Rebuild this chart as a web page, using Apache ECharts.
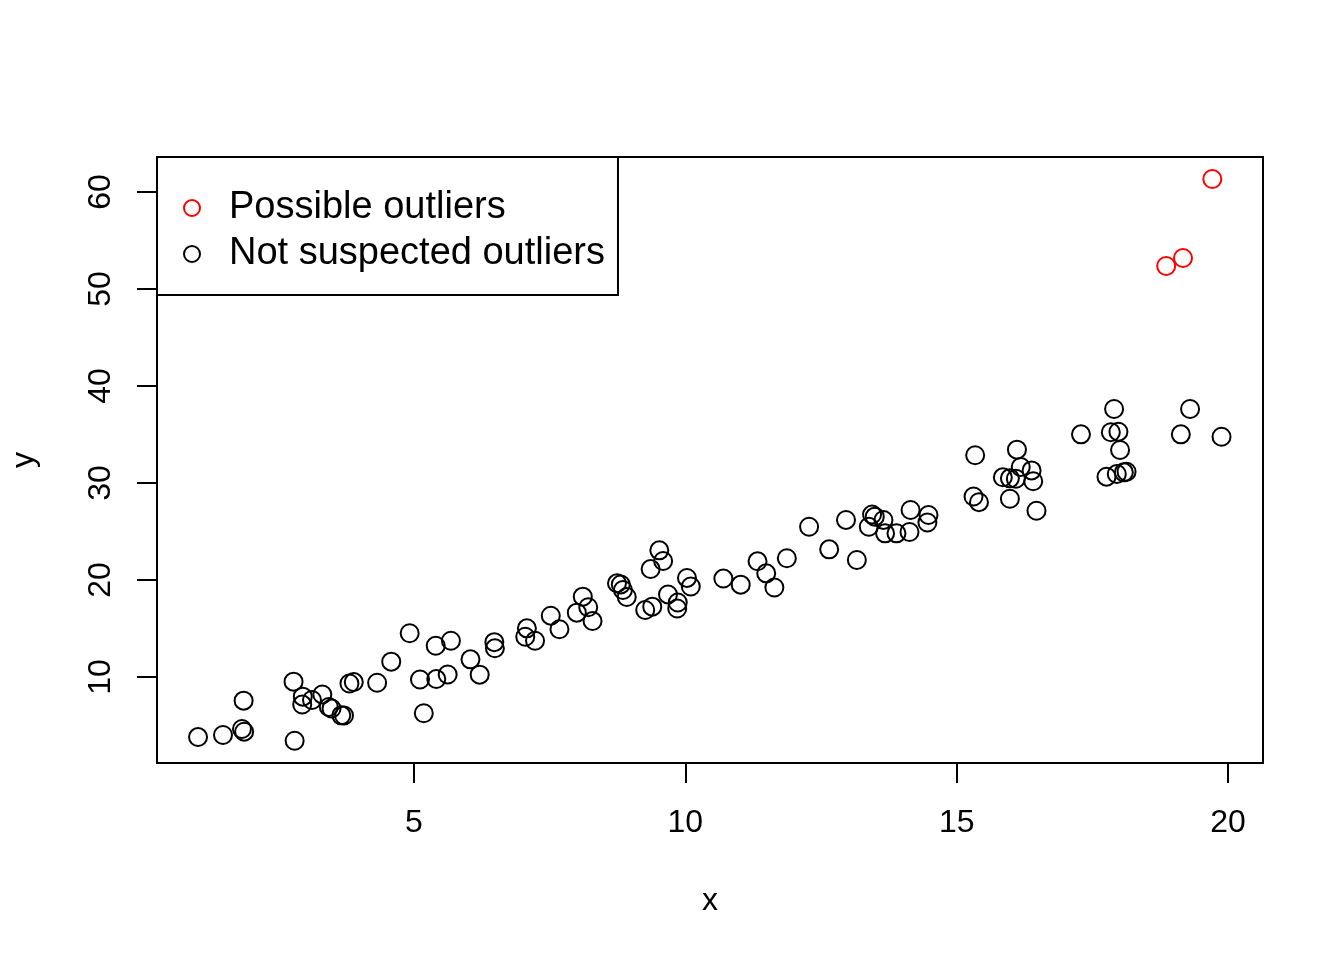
<!DOCTYPE html>
<html>
<head>
    <meta charset="utf-8" />
    <title>Possible outliers</title>
    <script src="https://cdn.jsdelivr.net/npm/echarts@6/dist/echarts.min.js"></script>
    <style type="text/css">
        html,
        body {
            width: 100%;
            height: 100%;
            margin: 0;
            background: #fff;
        }

        #chart {
            width: 1344px;
            height: 960px;
        }
    </style>
</head>
<body>
    <div id="chart"></div>
    <script>
        // values
        var xNormal = [1.02, 1.48, 1.83, 1.87, 1.86, 2.80, 2.78, 2.95, 2.94, 3.12,
            3.31, 3.43, 3.48, 3.66, 3.71, 3.81, 3.89, 4.32, 4.58, 4.92,
            5.18, 5.11, 5.41, 5.62, 5.40, 5.68, 6.04, 6.21, 6.48, 6.49,
            7.08, 7.05, 7.23, 7.52, 7.68, 8.00, 8.11, 8.21, 8.29, 8.74,
            8.81, 8.85, 8.92, 9.26, 9.39, 9.52, 9.59, 9.36, 9.68, 9.86,
            9.85, 10.03, 10.10, 10.70, 11.02, 11.33, 11.49, 11.64, 11.87, 12.28,
            12.65, 12.96, 13.16, 13.44, 13.49, 13.65, 13.38, 13.68, 13.89, 14.13,
            14.15, 14.48, 14.46, 15.34, 15.31, 15.41, 16.11, 15.85, 15.98, 16.09,
            16.18, 16.38, 16.41, 15.98, 16.47, 17.29, 17.90, 17.84, 17.98, 18.01,
            17.76, 17.95, 18.08, 18.13, 19.30, 19.13, 19.88];
        var yNormal = [3.81, 4.02, 4.64, 4.36, 7.56, 3.43, 9.52, 7.97, 7.16, 7.63,
            8.20, 6.91, 6.75, 6.05, 6.03, 9.33, 9.48, 9.41, 11.58, 14.51,
            6.26, 9.74, 9.79, 10.26, 13.22, 13.74, 11.82, 10.24, 13.59, 12.96,
            15.02, 14.15, 13.74, 16.32, 14.92, 16.63, 18.28, 17.19, 15.77, 19.66,
            19.54, 18.97, 18.25, 16.91, 17.25, 23.06, 21.96, 21.13, 18.51, 17.68,
            17.06, 20.21, 19.33, 20.15, 19.52, 21.93, 20.69, 19.23, 22.24, 25.49,
            23.16, 26.19, 22.06, 26.75, 26.53, 26.19, 25.49, 24.81, 24.81, 24.95,
            27.22, 26.70, 25.93, 32.86, 28.61, 28.02, 33.44, 30.59, 30.48, 30.44,
            31.65, 31.30, 30.18, 28.38, 27.14, 35.02, 37.63, 35.23, 35.29, 33.40,
            30.65, 30.93, 31.10, 31.16, 37.63, 35.02, 34.77];
        var xOutlier = [18.86, 19.17, 19.71];
        var yOutlier = [52.37, 53.20, 61.34];

        var xTicks = [5, 10, 15, 20];
        var yTicks = [10, 20, 30, 40, 50, 60];
        var legendNames = ['Possible outliers', 'Not suspected outliers'];

        function pairs(xs, ys) {
            return xs.map(function (v, i) { return [v, ys[i]]; });
        }

        var font = '"Liberation Sans", Arial, sans-serif';
        var chart = echarts.init(document.getElementById('chart'));

        var option = {
            animation: false,
            backgroundColor: '#fff',
            textStyle: { fontFamily: font },
            grid: {
                left: 157,
                right: 81,
                top: 157,
                bottom: 197,
                show: true,
                borderColor: '#000',
                borderWidth: 2
            },
            legend: {
                left: 157,
                top: 157,
                orient: 'vertical',
                padding: [32, 13, 22, 26],
                itemGap: 8,
                itemWidth: 64,
                itemHeight: 16,
                borderColor: '#000',
                borderWidth: 2,
                backgroundColor: '#fff',
                selectedMode: false,
                textStyle: { fontSize: 38, lineHeight: 38, color: '#000', fontFamily: font },
                data: [
                    { name: legendNames[0], icon: 'circle', itemStyle: { color: 'transparent', borderColor: '#ff0000', borderWidth: 2, opacity: 1 } },
                    { name: legendNames[1], icon: 'circle', itemStyle: { color: 'transparent', borderColor: '#000', borderWidth: 2, opacity: 1 } }
                ]
            },
            xAxis: {
                type: 'value',
                min: 0.264,
                max: 20.644,
                name: 'x',
                nameLocation: 'middle',
                nameGap: 122,
                nameTextStyle: { fontSize: 32, color: '#000', fontFamily: font },
                splitLine: { show: false },
                axisLine: { show: false },
                axisTick: { show: true, length: 20, lineStyle: { color: '#000', width: 2 }, customValues: xTicks },
                axisLabel: { fontSize: 32, color: '#000', margin: 44, customValues: xTicks }
            },
            yAxis: {
                type: 'value',
                min: 1.134,
                max: 63.61,
                name: 'y',
                nameLocation: 'middle',
                nameGap: 117,
                nameTextStyle: { fontSize: 32, color: '#000', fontFamily: font },
                splitLine: { show: false },
                axisLine: { show: false },
                axisTick: { show: true, length: 20, lineStyle: { color: '#000', width: 2 }, customValues: yTicks },
                axisLabel: { fontSize: 32, color: '#000', margin: 40, rotate: 90, customValues: yTicks }
            },
            series: [
                {
                    name: legendNames[1],
                    type: 'scatter',
                    symbol: 'circle',
                    symbolSize: 18,
                    itemStyle: { color: 'transparent', borderColor: '#000', borderWidth: 2, opacity: 1 },
                    data: pairs(xNormal, yNormal)
                },
                {
                    name: legendNames[0],
                    type: 'scatter',
                    symbol: 'circle',
                    symbolSize: 18,
                    itemStyle: { color: 'transparent', borderColor: '#ff0000', borderWidth: 2, opacity: 1 },
                    data: pairs(xOutlier, yOutlier)
                }
            ]
        };
        chart.setOption(option);
    </script>
</body>
</html>
